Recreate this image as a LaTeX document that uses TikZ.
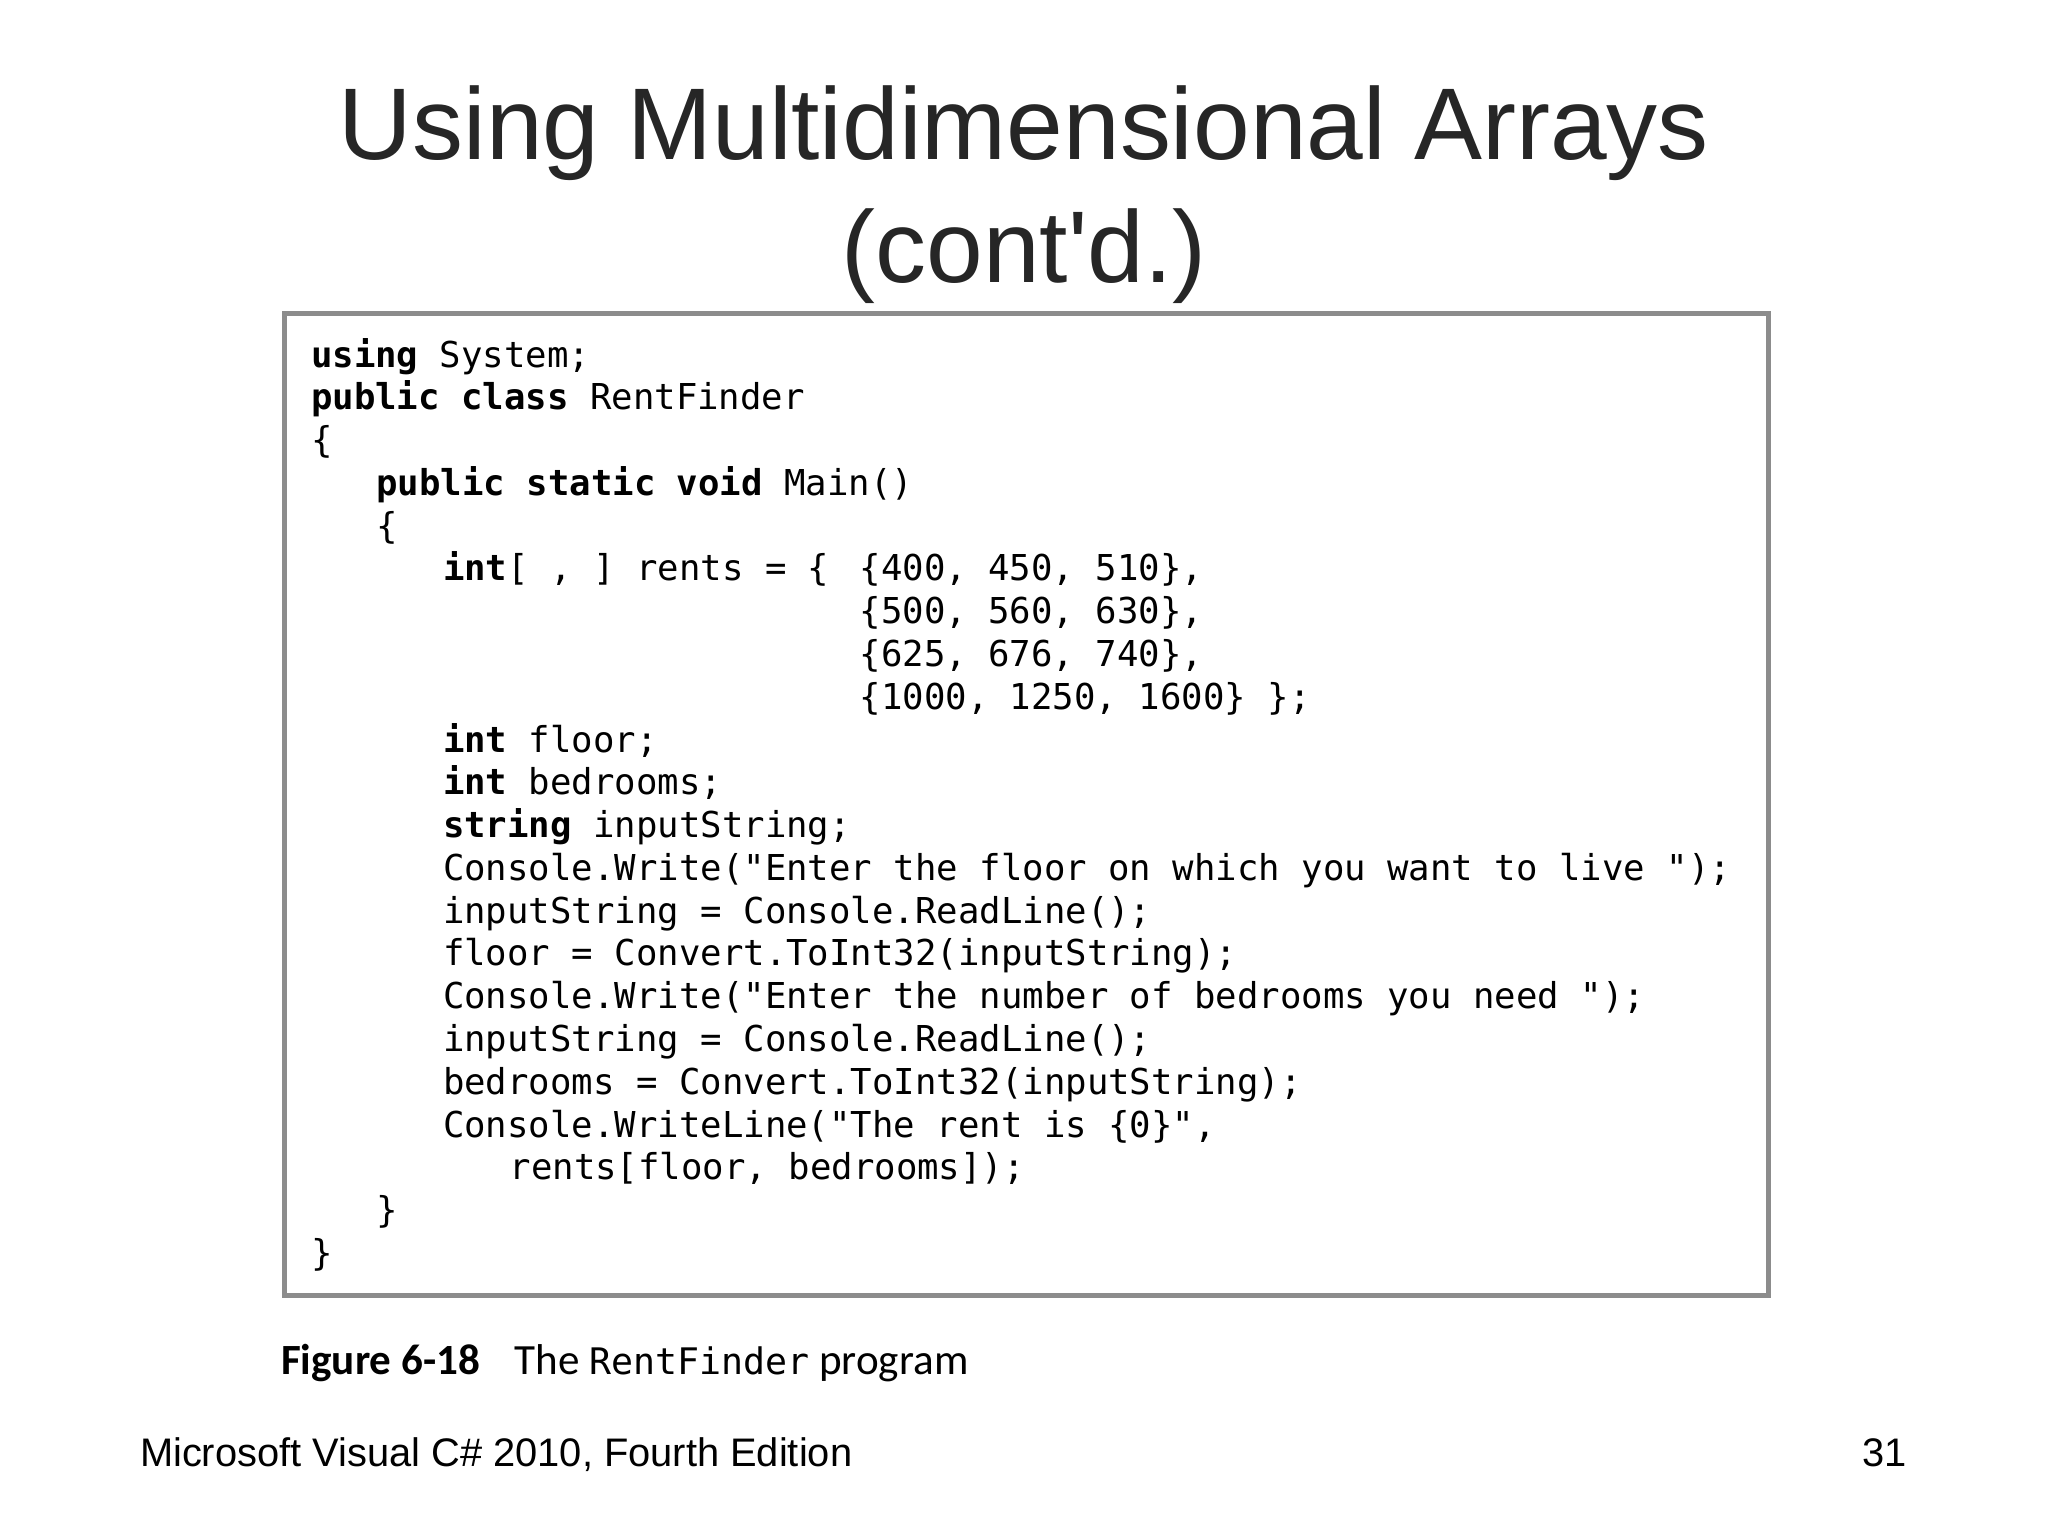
\documentclass[tikz,border=0pt]{standalone}
\usepackage{fontspec}
\setmainfont{Liberation Sans}
\setmonofont{DejaVu Sans Mono}
\newfontfamily\capfont{Carlito}
\begin{document}
\begin{tikzpicture}[x=1pt,y=-1pt,
  code/.style={anchor=base west,inner sep=0pt,font=\fontsize{27.3}{30}\selectfont\ttfamily},
  ttl/.style={inner sep=0pt,font=\fontsize{78}{80}\selectfont,text=black!85},
  foot/.style={inner sep=0pt,anchor=base west,font=\fontsize{30.5}{34}\selectfont}]
\useasboundingbox[fill=white] (0,0) rectangle (1568,1176);
\node[ttl,anchor=base] (t1) at (784,122) {Using Multidimensional Arrays};
\node[ttl,anchor=base] (t2) at (784,216) {(cont\textquotesingle d.)};
\node[draw=black!45,line width=4pt,minimum width=1136pt,minimum height=752pt,anchor=north west,inner sep=0pt] (box) at (216,238) {};
\def\L#1#2#3{\node[code] at (#1,{281+32.75*#2}) {#3};}
\L{238}{0}{\textbf{using} System;}
\L{238}{1}{\textbf{public class} RentFinder}
\L{238}{2}{\{}
\L{288}{3}{\textbf{public static void} Main()}
\L{288}{4}{\{}
\L{339}{5}{\textbf{int}[ , ] rents = \{}
\L{658}{5}{\{400, 450, 510\},}
\L{658}{6}{\{500, 560, 630\},}
\L{658}{7}{\{625, 676, 740\},}
\L{658}{8}{\{1000, 1250, 1600\} \};}
\L{339}{9}{\textbf{int} floor;}
\L{339}{10}{\textbf{int} bedrooms;}
\L{339}{11}{\textbf{string} inputString;}
\L{339}{12}{Console.Write("Enter the floor on which you want to live ");}
\L{339}{13}{inputString = Console.ReadLine();}
\L{339}{14}{floor = Convert.ToInt32(inputString);}
\L{339}{15}{Console.Write("Enter the number of bedrooms you need ");}
\L{339}{16}{inputString = Console.ReadLine();}
\L{339}{17}{bedrooms = Convert.ToInt32(inputString);}
\L{339}{18}{Console.WriteLine("The rent is \{0\}",}
\L{390}{19}{rents[floor, bedrooms]);}
\L{288}{20}{\}}
\L{238}{21}{\}}
\node[inner sep=0pt,anchor=base west,font=\fontsize{33}{36}\selectfont\capfont] (cap) at (215,1052) {\textbf{Figure 6-18}\hspace{0.8em}The {\fontsize{28}{30}\selectfont\ttfamily RentFinder} program};
\node[foot] (f1) at (107,1123) {Microsoft Visual C\# 2010, Fourth Edition};
\node[foot,anchor=base east] (f2) at (1460,1123) {31};
\end{tikzpicture}
\end{document}
